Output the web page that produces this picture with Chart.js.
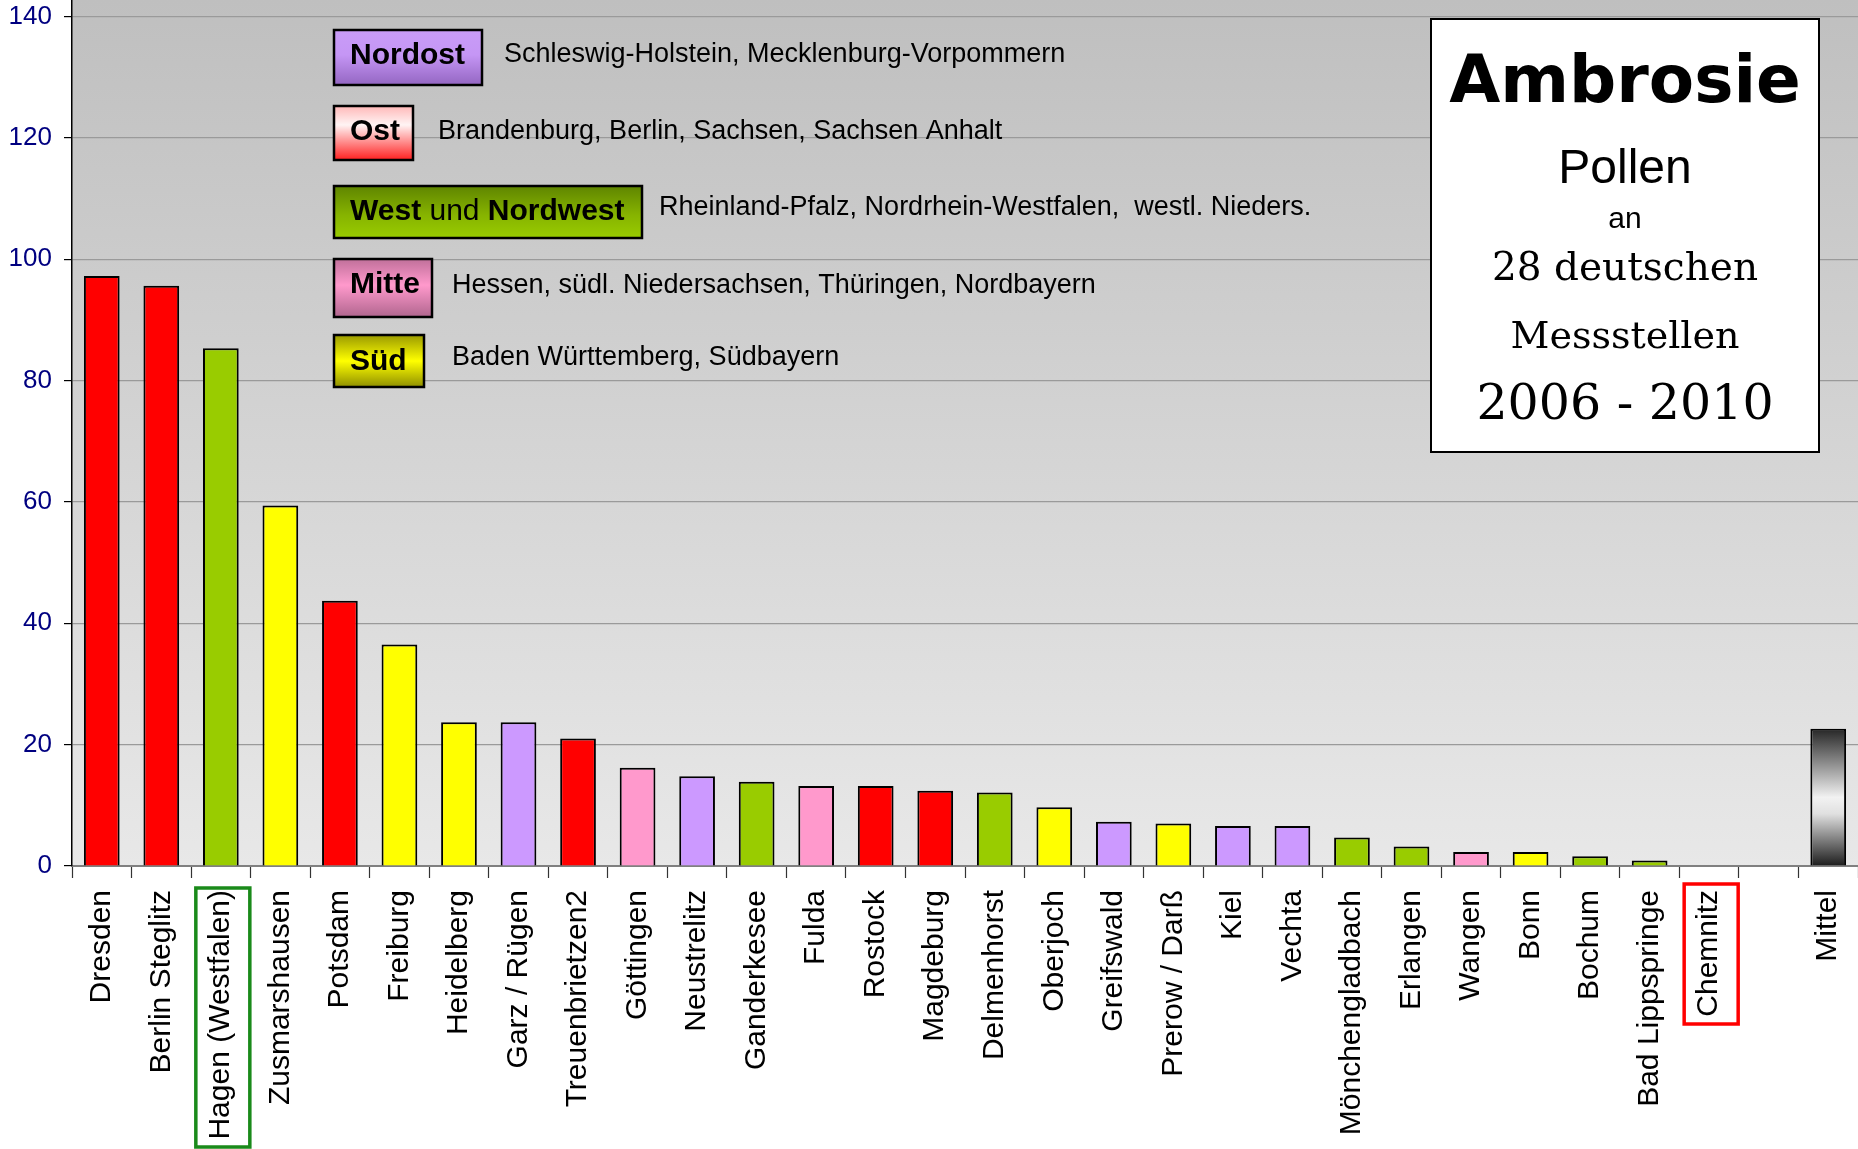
<!DOCTYPE html>
<html>
<head>
<meta charset="utf-8">
<script src="https://cdn.jsdelivr.net/npm/chart.js@4.4.1/dist/chart.umd.min.js"></script>
<style>
html,body{margin:0;padding:0;background:#fff;}
#wrap{width:1858px;height:1149px;}
</style>
</head>
<body>
<div id="wrap"><canvas id="c" width="1858" height="1149"></canvas></div>
<script>
// ---- data ----
const categories = ["Dresden","Berlin Steglitz","Hagen (Westfalen)","Zusmarshausen","Potsdam","Freiburg","Heidelberg","Garz / Rügen","Treuenbrietzen2","Göttingen","Neustrelitz","Ganderkesee","Fulda","Rostock","Magdeburg","Delmenhorst","Oberjoch","Greifswald","Prerow / Darß","Kiel","Vechta","Mönchengladbach","Erlangen","Wangen","Bonn","Bochum","Bad Lippspringe","Chemnitz","","Mittel"];
const pollenValues = [97.2,95.6,85.3,59.4,43.7,36.5,23.7,23.7,21.0,16.2,14.8,13.9,13.2,13.2,12.4,12.1,9.7,7.3,7.0,6.6,6.6,4.7,3.2,2.3,2.3,1.6,0.9,0,null,22.6];
const regions = ["Ost","Ost","West","Süd","Ost","Süd","Süd","Nordost","Ost","Mitte","Nordost","West","Mitte","Ost","Ost","West","Süd","Nordost","Süd","Nordost","Nordost","West","West","Mitte","Süd","West","West","Ost","","Mittel"];
const yTickValues = [0,20,40,60,80,100,120,140];
const legendNames = [["Nordost"],["Ost"],["West"," und ","Nordwest"],["Mitte"],["Süd"]];
const legendTexts = ["Schleswig-Holstein, Mecklenburg-Vorpommern","Brandenburg, Berlin, Sachsen, Sachsen Anhalt","Rheinland-Pfalz, Nordrhein-Westfalen,  westl. Nieders.","Hessen, südl. Niedersachsen, Thüringen, Nordbayern","Baden Württemberg, Südbayern"];
const titleLines = ["Ambrosie","Pollen","an","28 deutschen","Messstellen","2006 - 2010"];
const highlightedLabels = ["Hagen (Westfalen)","Chemnitz"];

// ---- styles ----
const regionColors = {"Ost":"#ff0000","West":"#99cc00","Süd":"#ffff00","Nordost":"#cc99ff","Mitte":"#ff99cc","":"#ffffff"};
const highlightStyles = [{color:"#1a8a1a",dy:22,h:259},{color:"#ff0000",dy:18,h:140}];

function barColor(ctx){
  const r = regions[ctx.dataIndex];
  if (r === "Mittel") {
    const chart = ctx.chart;
    if (!chart.chartArea || !chart.scales.y) return "#888";
    const y = chart.scales.y;
    const top = y.getPixelForValue(pollenValues[ctx.dataIndex]);
    const bot = y.getPixelForValue(0);
    const g = chart.ctx.createLinearGradient(0, top, 0, bot);
    g.addColorStop(0, "#262626");
    g.addColorStop(0.5, "#f2f2f2");
    g.addColorStop(0.62, "#e0e0e0");
    g.addColorStop(1, "#1c1c1c");
    return g;
  }
  return regionColors[r] || "#fff";
}

const bgPlugin = {
  id: "bg",
  beforeDraw(chart){
    const {ctx, chartArea:a} = chart;
    const g = ctx.createLinearGradient(0, a.top, 0, a.bottom);
    g.addColorStop(0, "#bfbfbf");
    g.addColorStop(1, "#e8e8e8");
    ctx.save();
    ctx.fillStyle = g;
    ctx.fillRect(a.left, a.top, a.right - a.left, a.bottom - a.top);
    ctx.restore();
  }
};

const legendBoxes = [
  {x:334,y:30,w:148,h:55,tb:64,dx:504,db:62,stops:[[0,"#c99cf7"],[0.45,"#c596f5"],[1,"#9466c2"]]},
  {x:334,y:106,w:79,h:54,tb:140,dx:438,db:139,stops:[[0,"#ffb8b8"],[0.35,"#fff4f4"],[1,"#ff2020"]]},
  {x:334,y:186,w:308,h:52,tb:220,dx:659,db:215,stops:[[0,"#5f8500"],[0.55,"#86b300"],[1,"#99cc00"]]},
  {x:334,y:259,w:98,h:58,tb:293,dx:452,db:293,stops:[[0,"#c0709a"],[0.45,"#ff99cc"],[1,"#b0668e"]]},
  {x:334,y:335,w:90,h:52,tb:370,dx:452,db:365,stops:[[0,"#9a9a00"],[0.5,"#ffff00"],[1,"#8f8f00"]]}
];

const overlayPlugin = {
  id: "overlay",
  afterDraw(chart){
    const ctx = chart.ctx;
    ctx.save();
    // legend boxes
    legendBoxes.forEach((b,i)=>{
      const g = ctx.createLinearGradient(0,b.y,0,b.y+b.h);
      b.stops.forEach(s=>g.addColorStop(s[0],s[1]));
      ctx.fillStyle = g;
      ctx.fillRect(b.x,b.y,b.w,b.h);
      ctx.lineWidth = 2.5;
      ctx.strokeStyle = "#000";
      ctx.strokeRect(b.x,b.y,b.w,b.h);
      ctx.fillStyle = "#000";
      ctx.textBaseline = "alphabetic";
      ctx.textAlign = "left";
      let x = b.x + 16;
      legendNames[i].forEach((seg,k)=>{
        const bold = (k % 2 === 0);
        ctx.font = (bold ? "bold " : "") + "30px 'Liberation Sans', Arial, sans-serif";
        ctx.fillText(seg, x, b.tb);
        x += ctx.measureText(seg).width;
      });
      ctx.font = "27px 'Liberation Sans', Arial, sans-serif";
      ctx.fillText(legendTexts[i], b.dx, b.db);
    });
    // title box
    const tx=1431, ty=19, tw=388, th=433;
    ctx.fillStyle = "#fff";
    ctx.fillRect(tx,ty,tw,th);
    ctx.lineWidth = 2;
    ctx.strokeStyle = "#000";
    ctx.strokeRect(tx,ty,tw,th);
    ctx.fillStyle = "#000";
    ctx.textAlign = "center";
    const cx = tx + tw/2;
    const titleFonts = [
      "bold 66px 'Comic Sans MS', 'DejaVu Sans', sans-serif",
      "48px 'Liberation Sans', Arial, sans-serif",
      "30px 'Liberation Sans', Arial, sans-serif",
      "39px 'DejaVu Serif', Georgia, serif",
      "38px 'DejaVu Serif', Georgia, serif",
      "49px 'DejaVu Serif', Georgia, serif"
    ];
    const baselines = [102,183,228,280,348,419];
    titleLines.forEach((t,i)=>{
      ctx.font = titleFonts[i];
      ctx.fillText(t, cx, baselines[i]);
    });
    // highlight rectangles around labels
    const xs = chart.scales.x;
    highlightedLabels.forEach((lab,i)=>{
      const s = highlightStyles[i];
      const idx = categories.indexOf(lab);
      const px = xs.getPixelForValue(idx) + 2;
      const top = chart.chartArea.bottom + s.dy;
      ctx.lineWidth = 3.5;
      ctx.strokeStyle = s.color;
      ctx.strokeRect(px - 27, top, 54, s.h);
    });
    ctx.restore();
  }
};

new Chart(document.getElementById("c"), {
  type: "bar",
  data: {
    labels: categories,
    datasets: [{
      data: pollenValues,
      backgroundColor: barColor,
      borderColor: "#000",
      borderWidth: 2,
      borderSkipped: "bottom",
      barPercentage: 0.6,
      categoryPercentage: 1.0
    }]
  },
  options: {
    responsive: false,
    devicePixelRatio: 1,
    animation: false,
    layout: {padding: 0},
    plugins: {legend:{display:false}, tooltip:{enabled:false}, title:{display:false}},
    scales: {
      x: {
        offset: true,
        grid: {offset:true, drawOnChartArea:false, drawTicks:true, tickLength:12, tickColor:"#333", tickWidth:1.2},
        border: {display:true, color:"#808080", width:2},
        ticks: {
          autoSkip:false, maxRotation:90, minRotation:90, padding:12,
          color:"#000", font:{family:"'Liberation Sans', Arial, sans-serif", size:30}
        },
        afterFit(scale){ scale.height = 283; scale.paddingLeft = 0; scale.paddingRight = 0; }
      },
      y: {
        min: 0, max: 142.7,
        afterBuildTicks(scale){ scale.ticks = yTickValues.map(v=>({value:v})); },
        grid: {color:"#9a9a9a", lineWidth:1.2, drawTicks:true, tickLength:8, tickColor:"#000"},
        border: {display:true, color:"#000", width:1.5},
        ticks: {
          padding: 12, color:"#000080",
          font:{family:"'Liberation Sans', Arial, sans-serif", size:26}
        },
        afterFit(scale){ scale.width = 72; scale.paddingTop = 0; scale.paddingBottom = 0; }
      }
    }
  },
  plugins: [bgPlugin, overlayPlugin]
});
</script>
</body>
</html>
